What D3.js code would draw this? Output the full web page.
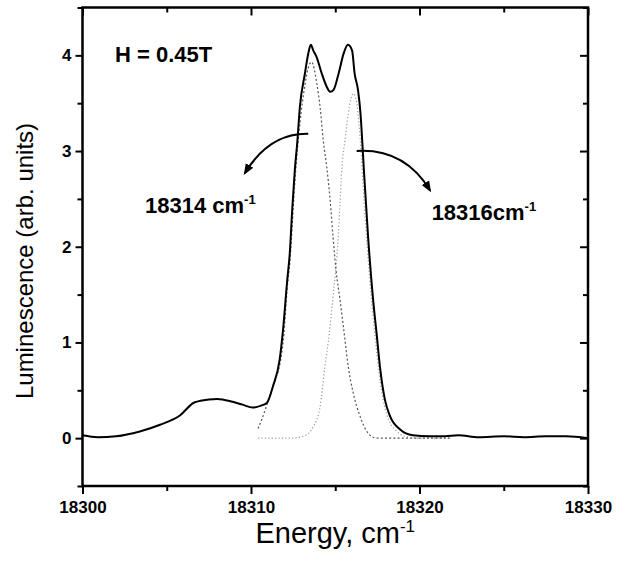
<!DOCTYPE html>
<html>
<head>
<meta charset="utf-8">
<script src="https://cdn.jsdelivr.net/npm/d3@7"></script>
<style>
  body { margin: 0; background: #fff; }
  text { font-family: "Liberation Sans", Arial, Helvetica, sans-serif; fill: #000; }
</style>
</head>
<body>
<div class="graph"></div>
<script>

// measured spectrum (solid line)
var mainEnergy = [18300, 18300.9, 18302, 18303.4, 18304.6, 18305.8, 18306.6, 18307, 18308, 18308.9,
  18309.5, 18310.1, 18310.6, 18310.95, 18311.3, 18311.7, 18311.9, 18312.15, 18312.3, 18312.45,
  18312.6, 18312.75, 18312.9, 18313.2, 18313.4, 18313.55, 18313.7, 18313.9, 18314.2, 18314.5,
  18314.7, 18314.9, 18315.2, 18315.5, 18315.75, 18316.0, 18316.15, 18316.35, 18316.5, 18316.6,
  18316.7, 18316.95, 18317.25, 18317.45, 18317.65, 18317.95, 18318.25, 18318.85, 18319.6, 18320.6,
  18321.5, 18322.3, 18323.5, 18325, 18326.2, 18327.5, 18328.7, 18330];
var mainLum = [0.03, 0.01, 0.02, 0.07, 0.14, 0.24, 0.37, 0.39, 0.41, 0.38,
  0.35, 0.32, 0.34, 0.37, 0.54, 0.82, 1.13, 1.65, 1.93, 2.4,
  2.8, 3.1, 3.46, 3.81, 4.02, 4.11, 4.05, 3.98, 3.81, 3.67,
  3.62, 3.64, 3.81, 4.02, 4.11, 4.05, 3.81, 3.64, 3.39, 3.11,
  2.8, 2.1, 1.44, 1.1, 0.75, 0.4, 0.23, 0.09, 0.03, 0.02,
  0.02, 0.03, 0.01, 0.02, 0.01, 0.02, 0.02, 0.0];

// fitted component at 18314 (dashed)
var fit1Energy = [18310.42, 18310.65, 18310.89, 18311.13, 18311.42, 18311.72, 18311.96, 18312.14, 18312.31, 18312.61,
  18312.91, 18313.21, 18313.38, 18313.6, 18313.9, 18314.1, 18314.29, 18314.49, 18314.69, 18314.87,
  18315.05, 18315.28, 18315.48, 18315.77, 18316.07, 18316.47, 18317.06, 18317.47, 18321.8];
var fit1Lum = [0.10, 0.2, 0.32, 0.45, 0.6, 0.78, 1.1, 1.55, 1.85, 2.7,
  3.3, 3.7, 3.86, 3.93, 3.71, 3.46, 3.11, 2.84, 2.5, 2.1,
  1.75, 1.45, 1.17, 0.75, 0.47, 0.23, 0.03, 0.0, 0.0];

// fitted component at 18316 (dotted)
var fit2Energy = [18310.42, 18312.31, 18313.1, 18313.7, 18314.1, 18314.39, 18314.65, 18314.85, 18315.05, 18315.16,
  18315.28, 18315.4, 18315.58, 18315.77, 18316.07, 18316.23, 18316.4, 18316.55, 18316.65, 18316.9,
  18317.2, 18317.4, 18317.6, 18317.9, 18318.2, 18318.6, 18319.1, 18320, 18321.8];
var fit2Lum = [0.0, 0.0, 0.02, 0.12, 0.33, 0.75, 1.1, 1.45, 1.8, 2.05,
  2.45, 2.84, 3.11, 3.39, 3.6, 3.55, 3.3, 2.95, 2.65, 2.0,
  1.35, 1.0, 0.68, 0.35, 0.18, 0.08, 0.02, 0.0, 0.0];

var xMajor = [18300, 18310, 18320, 18330];
var xMinor = [18305, 18315, 18325];
var yMajor = [0, 1, 2, 3, 4];
var yMinor = [-0.5, 0.5, 1.5, 2.5, 3.5, 4.5];

// arrows: start, control, end  [energy, lum]
var arrowLeft = [[18313.4, 3.18], [18311.1, 3.19], [18309.64, 2.77]];
var arrowRight = [[18316.27, 3.0], [18319.1, 3.03], [18320.62, 2.59]];


var width = 628, height = 564;
var margin = {top: 7.5, right: 40, bottom: 78, left: 82.5};
var innerW = width - margin.left - margin.right,
    innerH = height - margin.top - margin.bottom;

var x = d3.scaleLinear().domain([18300, 18330]).range([0, innerW]);
var y = d3.scaleLinear().domain([-0.5, 4.5]).range([innerH, 0]);

var svg = d3.select("div.graph").append("svg")
    .attr("width", width)
    .attr("height", height);

svg.append("defs").append("marker")
    .attr("id", "head")
    .attr("viewBox", "0 0 10 10")
    .attr("refX", 8).attr("refY", 5)
    .attr("markerWidth", 11).attr("markerHeight", 11)
    .attr("markerUnits", "userSpaceOnUse")
    .attr("orient", "auto")
  .append("path")
    .attr("d", "M0,1 L10,5 L0,9 Z")
    .attr("fill", "#000");

var g = svg.append("g")
    .attr("transform", "translate(" + margin.left + "," + margin.top + ")");

function pairs(xs, ys) {
  return xs.map(function(d, i) { return [d, ys[i]]; });
}

var line = d3.line()
    .x(function(d) { return x(d[0]); })
    .y(function(d) { return y(d[1]); })
    .curve(d3.curveMonotoneX);

// fitted components
g.append("path")
    .datum(pairs(fit2Energy, fit2Lum))
    .attr("fill", "none")
    .attr("stroke", "#9a9a9a")
    .attr("stroke-width", 1.2)
    .attr("stroke-dasharray", "1.2,2.2")
    .attr("d", line);

g.append("path")
    .datum(pairs(fit1Energy, fit1Lum))
    .attr("fill", "none")
    .attr("stroke", "#555")
    .attr("stroke-width", 1.2)
    .attr("stroke-dasharray", "2,2.2")
    .attr("d", line);

// measured spectrum
g.append("path")
    .datum(pairs(mainEnergy, mainLum))
    .attr("fill", "none")
    .attr("stroke", "#000")
    .attr("stroke-width", 2)
    .attr("stroke-linejoin", "round")
    .attr("d", line);

// axes: bottom/left ticks out, top/right ticks in
function styleAxis(sel) {
  sel.select(".domain").remove();
  sel.selectAll(".tick line").attr("stroke", "#000").attr("stroke-width", 2);
  sel.selectAll("text")
    .attr("font-size", 17)
    .attr("font-weight", "bold")
    .attr("fill", "#000");
}

g.append("g")
    .attr("transform", "translate(0," + innerH + ")")
    .call(d3.axisBottom(x).tickValues(xMajor).tickFormat(d3.format("d"))
      .tickSize(8).tickSizeOuter(0).tickPadding(7))
    .call(styleAxis);
g.append("g")
    .attr("transform", "translate(0," + innerH + ")")
    .call(d3.axisBottom(x).tickValues(xMinor).tickFormat("").tickSize(5).tickSizeOuter(0))
    .call(styleAxis);

g.append("g")
    .call(d3.axisTop(x).tickValues(xMajor).tickFormat("").tickSize(-8).tickSizeOuter(0))
    .call(styleAxis);
g.append("g")
    .call(d3.axisTop(x).tickValues(xMinor).tickFormat("").tickSize(-5).tickSizeOuter(0))
    .call(styleAxis);

g.append("g")
    .call(d3.axisLeft(y).tickValues(yMajor).tickFormat(d3.format("d"))
      .tickSize(7).tickSizeOuter(0).tickPadding(4))
    .call(styleAxis);
g.append("g")
    .call(d3.axisLeft(y).tickValues(yMinor).tickFormat("").tickSize(5).tickSizeOuter(0))
    .call(styleAxis);

g.append("g")
    .attr("transform", "translate(" + innerW + ",0)")
    .call(d3.axisRight(y).tickValues(yMajor).tickFormat("").tickSize(-8).tickSizeOuter(0))
    .call(styleAxis);
g.append("g")
    .attr("transform", "translate(" + innerW + ",0)")
    .call(d3.axisRight(y).tickValues(yMinor).tickFormat("").tickSize(-5).tickSizeOuter(0))
    .call(styleAxis);

// frame
g.append("rect")
    .attr("x", 0).attr("y", 0)
    .attr("width", innerW).attr("height", innerH)
    .attr("fill", "none")
    .attr("stroke", "#000")
    .attr("stroke-width", 2.5);

// arrows
[arrowLeft, arrowRight].forEach(function(a) {
  g.append("path")
    .attr("d", "M" + x(a[0][0]) + "," + y(a[0][1]) +
               " Q" + x(a[1][0]) + "," + y(a[1][1]) +
               " " + x(a[2][0]) + "," + y(a[2][1]))
    .attr("fill", "none")
    .attr("stroke", "#000")
    .attr("stroke-width", 2)
    .attr("marker-end", "url(#head)");
});

// annotations
g.append("text")
    .attr("x", x(18301.93)).attr("y", y(3.93))
    .attr("font-size", 22).attr("font-weight", "bold")
    .text("H = 0.45T");

function waveLabel(e, l, str) {
  var t = g.append("text")
      .attr("x", x(e)).attr("y", y(l))
      .attr("font-size", 22).attr("font-weight", "bold");
  t.append("tspan").text(str);
  t.append("tspan").attr("dy", -9).attr("font-size", 13).text("-1");
}
waveLabel(18303.71, 2.35, "18314 cm");
waveLabel(18320.72, 2.28, "18316cm");

// axis titles
var xt = svg.append("text")
    .attr("x", margin.left + innerW / 2)
    .attr("y", 543)
    .attr("text-anchor", "middle")
    .attr("font-size", 29);
xt.append("tspan").text("Energy, cm");
xt.append("tspan").attr("dy", -11).attr("font-size", 17).text("-1");

svg.append("text")
    .attr("transform", "translate(33,261) rotate(-90)")
    .attr("text-anchor", "middle")
    .attr("font-size", 24)
    .text("Luminescence (arb. units)");

</script>
</body>
</html>
